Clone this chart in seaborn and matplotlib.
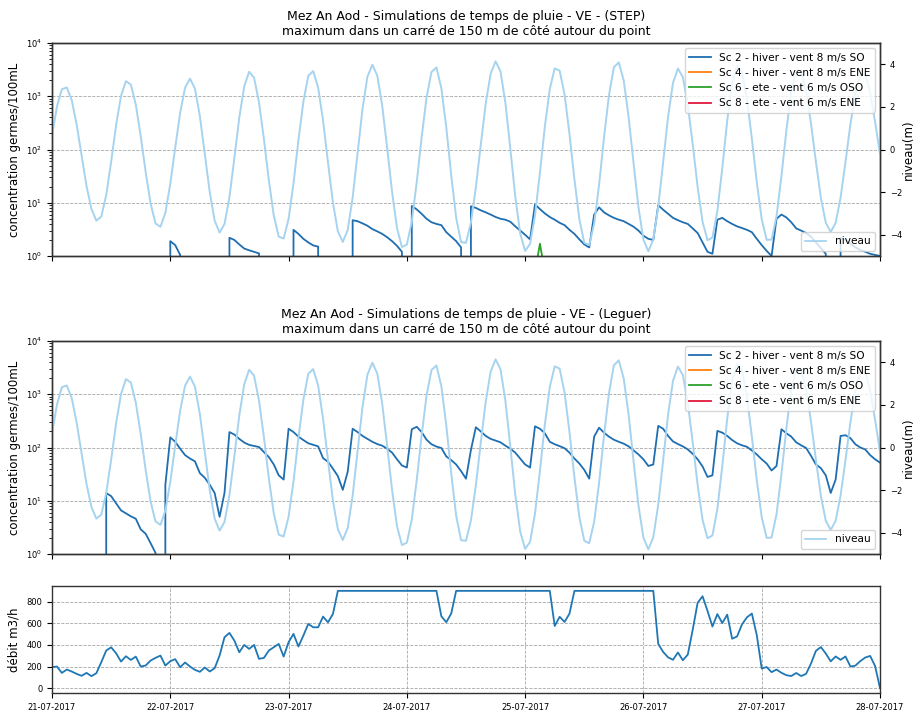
import numpy as np
import pandas as pd
import matplotlib
matplotlib.use("Agg")
import matplotlib.pyplot as plt
import matplotlib.dates as mdates
from matplotlib.lines import Line2D
import seaborn as sns

# Hourly time base: 21-07-2017 00:00 -> 28-07-2017 00:00
START = "2017-07-21 00:00"
N_HOURS = 169

# Tide level (m), hourly
NIVEAU = [
    0.65, 2.01, 2.83, 2.91, 2.32, 1.17, -0.27, -1.71, -2.79, -3.34, -3.15, -2.14,
    -0.58, 1.13, 2.51, 3.21, 3.05, 2.11, 0.63, -1.05, -2.53, -3.47, -3.63, -2.97,
    -1.61, 0.09, 1.72, 2.90, 3.33, 2.86, 1.57, -0.19, -1.99, -3.34, -3.90, -3.50,
    -2.24, -0.41, 1.50, 2.96, 3.65, 3.37, 2.21, 0.48, -1.45, -3.10, -4.09, -4.18,
    -3.26, -1.59, 0.44, 2.24, 3.46, 3.68, 2.91, 1.35, -0.61, -2.49, -3.84, -4.34,
    -3.78, -2.26, -0.18, 1.90, 3.42, 3.98, 3.47, 2.06, 0.08, -1.99, -3.69, -4.58,
    -4.47, -3.38, -1.54, 0.57, 2.45, 3.64, 3.85, 2.88, 1.04, -1.20, -3.20, -4.35,
    -4.38, -3.43, -1.78, 0.23, 2.15, 3.56, 4.14, 3.67, 2.18, 0.03, -2.22, -3.95,
    -4.76, -4.43, -3.10, -1.09, 1.08, 2.84, 3.81, 3.70, 2.58, 0.72, -1.40, -3.27,
    -4.38, -4.49, -3.49, -1.66, 0.56, 2.53, 3.86, 4.09, 3.24, 1.52, -0.65, -2.73,
    -4.23, -4.78, -4.22, -2.69, -0.60, 1.54, 3.13, 3.80, 3.40, 2.11, 0.24, -1.76,
    -3.40, -4.26, -4.13, -2.89, -0.87, 1.35, 3.12, 3.93, 3.62, 2.39, 0.51, -1.53,
    -3.27, -4.24, -4.23, -3.14, -1.25, 0.89, 2.73, 3.71, 3.65, 2.75, 1.22, -0.58,
    -2.27, -3.44, -3.87, -3.44, -2.26, -0.58, 1.19, 2.66, 3.49, 3.55, 2.70, 1.30,
    -0.20,
]

# Maximum concentration (germes/100mL) - STEP outfall, hourly (0 = no exceedance)
SC2_STEP = [
    0, 0, 0, 0, 0, 0, 0, 0, 0, 0, 0, 0,
    0, 0, 0, 0, 0, 0, 0, 0, 0, 0, 0, 0,
    1.9, 1.6, 1.05, 0, 0, 0, 0, 0, 0, 0, 0, 0,
    2.2, 2.0, 1.65, 1.38, 1.28, 1.2, 1.12, 0, 0, 0, 0, 0,
    0, 3.1, 2.6, 2.1, 1.8, 1.58, 1.5, 0, 0, 0, 0, 0,
    0, 4.7, 4.5, 4.1, 3.7, 3.2, 2.9, 2.6, 2.25, 1.9, 1.55, 1.2,
    0, 8.7, 7.5, 6.2, 5.0, 4.3, 4.0, 3.8, 2.8, 2.3, 1.9, 1.45,
    0, 8.6, 8.0, 7.2, 6.6, 6.0, 5.4, 5.0, 4.8, 4.4, 3.6, 3.0,
    2.5, 2.05, 9.3, 7.6, 6.3, 5.4, 4.8, 4.2, 3.8, 3.1, 2.6, 2.05,
    1.65, 1.45, 6.0, 8.2, 6.6, 5.8, 5.2, 4.8, 4.5, 4.0, 3.55, 3.0,
    2.4, 2.1, 2.0, 9.0, 7.4, 6.2, 5.2, 4.7, 4.3, 4.0, 3.3, 2.7,
    1.8, 1.2, 1.1, 4.8, 5.2, 4.5, 4.0, 3.6, 3.35, 3.1, 2.8, 2.1,
    1.6, 1.25, 1.0, 5.0, 6.0, 5.3, 4.3, 3.3, 3.0, 2.7, 2.3, 1.8,
    1.4, 1.1, 0, 0, 2.2, 2.0, 1.7, 1.45, 1.3, 1.2, 1.1, 1.05,
    1.0,
]
SC4_STEP = [0.0] * N_HOURS
SC6_STEP = [
    0, 0, 0, 0, 0, 0, 0, 0, 0, 0, 0, 0,
    0, 0, 0, 0, 0, 0, 0, 0, 0, 0, 0, 0,
    0, 0, 0, 0, 0, 0, 0, 0, 0, 0, 0, 0,
    0, 0, 0, 0, 0, 0, 0, 0, 0, 0, 0, 0,
    0, 0, 0, 0, 0, 0, 0, 0, 0, 0, 0, 0,
    0, 0, 0, 0, 0, 0, 0, 0, 0, 0, 0, 0,
    0, 0, 0, 0, 0, 0, 0, 0, 0, 0, 0, 0,
    0, 0, 0, 0, 0, 0, 0, 0, 0, 0, 0, 0,
    0, 0, 0.5, 1.7, 0.5, 0, 0, 0, 0, 0, 0, 0,
    0, 0, 0, 0, 0, 0, 0, 0, 0, 0, 0, 0,
    0, 0, 0, 0, 0, 0, 0, 0, 0, 0, 0, 0,
    0, 0, 0, 0, 0, 0, 0, 0, 0, 0, 0, 0,
    0, 0, 0, 0, 0, 0, 0, 0, 0, 0, 0, 0,
    0, 0, 0, 0, 0, 0, 0, 0, 0, 0, 0, 0,
    0,
]
SC8_STEP = [0.0] * N_HOURS

# Maximum concentration (germes/100mL) - Leguer, hourly
SC2_LEGUER = [
    0, 0, 0, 0, 0, 0, 0, 0, 0, 0, 0, 14,
    12.2, 9.0, 6.6, 5.8, 5.1, 4.6, 2.9, 2.4, 1.6, 1.05, 0, 20,
    155, 128, 95, 72, 62, 55, 33, 27, 20, 14, 5.0, 14,
    195, 175, 145, 124, 112, 107, 102, 82, 66, 48, 30, 25,
    225, 195, 160, 138, 120, 112, 105, 63, 54, 40, 29, 16,
    35, 225, 195, 165, 145, 128, 116, 108, 95, 80, 60, 46,
    42, 220, 245, 195, 140, 115, 104, 98, 68, 58, 48, 36,
    26, 90, 240, 200, 165, 145, 135, 125, 108, 95, 80, 62,
    48, 42, 250, 225, 185, 128, 115, 106, 97, 80, 62, 50,
    38, 26, 160, 235, 190, 160, 140, 128, 118, 105, 88, 74,
    60, 45, 48, 255, 225, 165, 130, 116, 105, 92, 76, 60,
    44, 28, 30, 205, 190, 165, 138, 120, 110, 103, 88, 74,
    60, 50, 37, 45, 220, 185, 160, 125, 110, 98, 70, 48,
    41, 30, 14, 25, 165, 170, 150, 115, 100, 92, 72, 60,
    52,
]
SC4_LEGUER = [0.0] * N_HOURS
SC6_LEGUER = [0.0] * N_HOURS
SC8_LEGUER = [0.0] * N_HOURS

# STEP discharge (m3/h), hourly
DEBIT = [
    194, 200, 141, 172, 154, 132, 114, 141, 111, 138, 240, 348,
    378, 323, 246, 295, 261, 292, 200, 209, 255, 280, 301, 209,
    249, 268, 194, 237, 200, 169, 151, 191, 154, 184, 301, 471,
    511, 440, 332, 400, 363, 400, 271, 280, 348, 378, 409, 292,
    425, 502, 385, 486, 594, 563, 563, 662, 609, 686, 900, 900,
    900, 900, 900, 900, 900, 900, 900, 900, 900, 900, 900, 900,
    900, 900, 900, 900, 900, 900, 900, 665, 610, 690, 900, 900,
    900, 900, 900, 900, 900, 900, 900, 900, 900, 900, 900, 900,
    900, 900, 900, 900, 900, 900, 575, 660, 612, 690, 900, 900,
    900, 900, 900, 900, 900, 900, 900, 900, 900, 900, 900, 900,
    900, 900, 900, 410, 335, 285, 262, 330, 258, 310, 540, 790,
    850, 715, 570, 685, 602, 680, 457, 478, 590, 655, 690, 490,
    182, 195, 148, 172, 142, 120, 112, 140, 112, 132, 228, 345,
    380, 320, 248, 293, 262, 293, 200, 208, 250, 283, 298, 205,
    0,
]

SCENARIOS = [
    "Sc 2 - hiver - vent 8 m/s SO",
    "Sc 4 - hiver - vent 8 m/s ENE",
    "Sc 6 - ete - vent 6 m/s OSO",
    "Sc 8 - ete - vent 6 m/s ENE",
]
SC_COLORS = ["#1f6eb0", "#ff7f0e", "#2ca02c", "#e3173e"]
NIVEAU_COLOR = "#a6d3ef"
DEBIT_COLOR = "#1f77b4"

TITLE_1 = "Mez An Aod - Simulations de temps de pluie - VE - (STEP)"
TITLE_2 = "Mez An Aod - Simulations de temps de pluie - VE - (Leguer)"
SUBTITLE = "maximum dans un carré de 150 m de côté autour du point"

plt.rcParams.update({
    "font.family": ["DejaVu Sans"],
    "xtick.labelsize": 6,
    "ytick.labelsize": 6,
    "axes.labelsize": 8.5,
    "axes.titlesize": 9,
    "legend.fontsize": 7.6,
    "axes.edgecolor": "#333333",
    "axes.linewidth": 1.0,
})

times = pd.date_range(START, periods=N_HOURS, freq="h")

fig = plt.figure(figsize=(9.17, 7.13), dpi=100)
W, H = 917, 713
L, R = 52, 880


def add_ax(top_px, bot_px, sharex=None):
    return fig.add_axes([L / W, 1 - bot_px / H, (R - L) / W, (bot_px - top_px) / H],
                        sharex=sharex)


def concentration_panel(ax, series, title):
    ax.set_yscale("log", nonpositive="clip")
    for name, vals, col in zip(SCENARIOS, series, SC_COLORS):
        sns.lineplot(x=times, y=np.asarray(vals, dtype=float), ax=ax, color=col,
                     lw=1.3, legend=False, estimator=None, sort=False)
    ax.set_ylim(1, 1e4)
    ax.set_ylabel("concentration germes/100mL")
    ax.set_xlabel("")
    ax.yaxis.grid(True, which="major", ls="--", color="0.65", lw=0.6)
    ax.set_title(title + "\n" + SUBTITLE, pad=6)
    ax.tick_params(labelbottom=False)

    ax2 = ax.twinx()
    sns.lineplot(x=times, y=np.asarray(NIVEAU, dtype=float), ax=ax2,
                 color=NIVEAU_COLOR, lw=1.4, legend=False, estimator=None, sort=False)
    ax2.set_ylim(-5, 5)
    ax2.set_yticks([-4, -2, 0, 2, 4])
    ax2.set_ylabel("niveau(m)", labelpad=0)
    ax2.set_xlabel("")

    sc_handles = [Line2D([], [], color=c, lw=1.3) for c in SC_COLORS]
    leg_sc = ax2.legend(sc_handles, SCENARIOS, loc="upper right")
    ax2.add_artist(leg_sc)
    ax2.legend([Line2D([], [], color=NIVEAU_COLOR, lw=1.3)], ["niveau"],
               loc="lower right")
    return ax2


ax_top = add_ax(43, 256)
ax_mid = add_ax(341, 554, sharex=ax_top)
ax_bot = add_ax(586, 693, sharex=ax_top)

concentration_panel(ax_top, [SC2_STEP, SC4_STEP, SC6_STEP, SC8_STEP], TITLE_1)
concentration_panel(ax_mid, [SC2_LEGUER, SC4_LEGUER, SC6_LEGUER, SC8_LEGUER], TITLE_2)

sns.lineplot(x=times, y=np.asarray(DEBIT, dtype=float), ax=ax_bot,
             color=DEBIT_COLOR, lw=1.3, legend=False, estimator=None, sort=False)
ax_bot.set_ylabel("débit m3/h")
ax_bot.set_xlabel("")
ax_bot.set_ylim(-45, 945)
ax_bot.set_yticks([0, 200, 400, 600, 800])
ax_bot.grid(True, ls="--", color="0.65", lw=0.6)

ax_bot.set_xlim(times[0], times[-1])
ax_bot.xaxis.set_major_locator(mdates.DayLocator())
ax_bot.xaxis.set_major_formatter(mdates.DateFormatter("%d-%m-%Y"))

fig.savefig("out.png", dpi=100)
